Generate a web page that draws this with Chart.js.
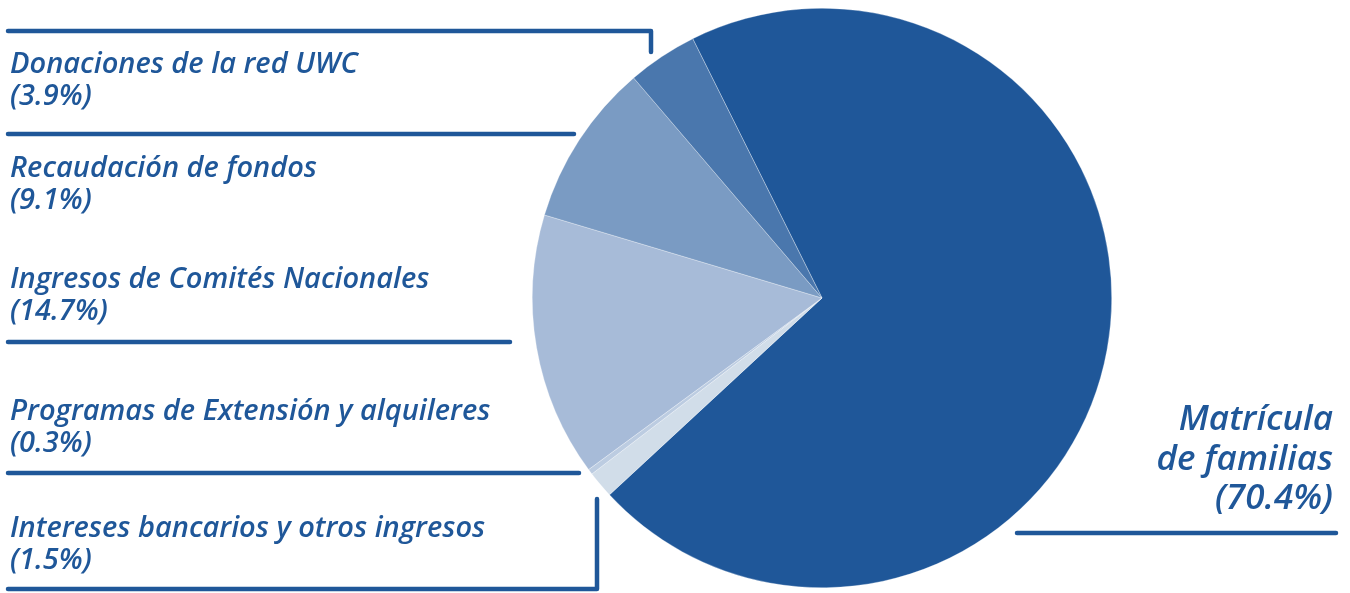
<!DOCTYPE html>
<html>
<head>
<meta charset="utf-8">
<script src="https://cdn.jsdelivr.net/npm/chart.js@4/dist/chart.umd.min.js"></script>
<style>
  html, body { margin: 0; padding: 0; background: #fff; }
  #wrap { width: 1350px; height: 593px; }
</style>
</head>
<body>
<div id="wrap"><canvas id="pie" width="1350" height="593"></canvas></div>
<script>
// slices, clockwise from the top-left edge of the big slice
const categories = [
    'Matrícula de familias',
    'Intereses bancarios y otros ingresos',
    'Programas de Extensión y alquileres',
    'Ingresos de Comités Nacionales',
    'Recaudación de fondos',
    'Donaciones de la red UWC'
];
const shares = [70.4, 1.5, 0.3, 14.7, 9.1, 3.9];
const sliceColors = ['#1f5799', '#d1dde9', '#bccce1', '#a7bbd8', '#7a9bc3', '#4a77ad'];

const ink = '#1f5799';

// left-hand callouts: [category index, name baseline y, leader line]
const leftNotes = [
    { i: 5, y: 73, line: [[8, 31], [651, 31], [651, 52]] },
    { i: 4, y: 177, line: [[8, 134], [574, 134]] },
    { i: 3, y: 288, line: [[8, 342], [510, 342]] },
    { i: 2, y: 420, line: [[8, 473], [579, 473]] },
    { i: 1, y: 537, line: [[597, 499], [597, 589], [8, 589]] }
];

const pct = v => '(' + v.toFixed(1) + '%)';

const calloutPlugin = {
    id: 'callouts',
    afterDraw(chart) {
        const ctx = chart.ctx;
        ctx.save();
        ctx.strokeStyle = ink;
        ctx.fillStyle = ink;
        ctx.lineWidth = 4.5;
        ctx.lineCap = 'round';
        ctx.lineJoin = 'round';

        ctx.font = 'italic 600 29px "Open Sans"';
        ctx.textAlign = 'left';
        ctx.textBaseline = 'alphabetic';
        leftNotes.forEach(n => {
            ctx.fillText(categories[n.i], 10, n.y);
            ctx.fillText(pct(shares[n.i]), 10, n.y + 32);
            ctx.beginPath();
            n.line.forEach((p, k) => k ? ctx.lineTo(p[0], p[1]) : ctx.moveTo(p[0], p[1]));
            ctx.stroke();
        });

        // big slice label, right aligned
        ctx.font = 'italic 600 35px "Open Sans"';
        ctx.textAlign = 'right';
        ctx.fillText('Matrícula', 1333, 430);
        ctx.fillText('de familias', 1333, 470);
        ctx.fillText(pct(shares[0]), 1333, 509);
        ctx.beginPath();
        ctx.moveTo(1017, 533);
        ctx.lineTo(1336, 533);
        ctx.stroke();
        ctx.restore();
    }
};

new Chart(document.getElementById('pie'), {
    type: 'pie',
    data: {
        labels: categories,
        datasets: [{
            data: shares,
            backgroundColor: sliceColors,
            borderColor: 'rgba(255,255,255,0.5)',
            borderWidth: 0.6
        }]
    },
    options: {
        responsive: false,
        animation: false,
        rotation: -26.5,
        layout: { padding: { left: 532, right: 238, top: 8, bottom: 5 } },
        plugins: {
            legend: { display: false },
            tooltip: { enabled: false }
        }
    },
    plugins: [calloutPlugin]
});
</script>
</body>
</html>
